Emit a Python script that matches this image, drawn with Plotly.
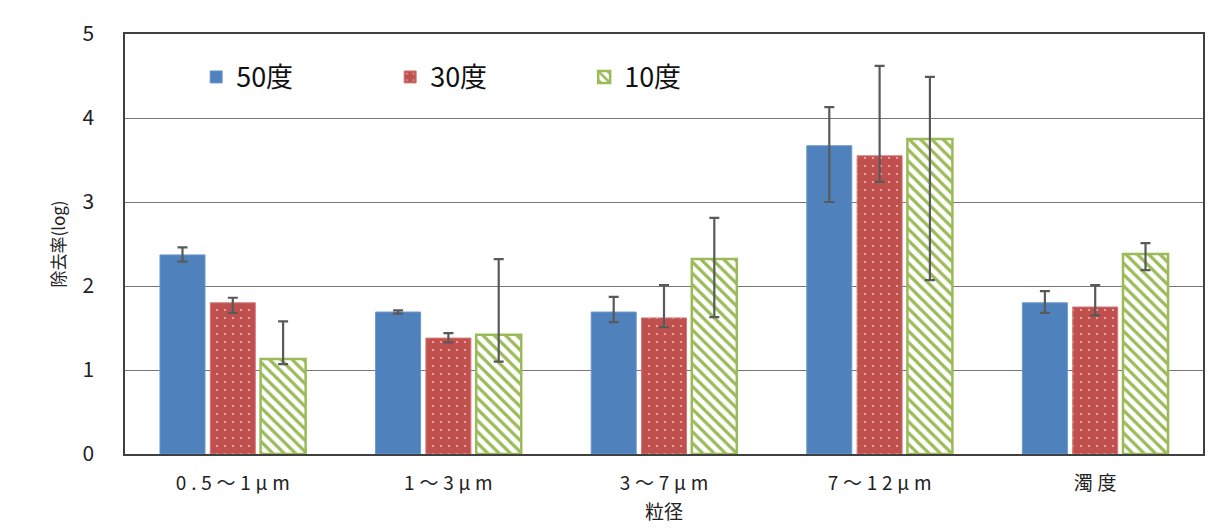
import plotly.graph_objects as go

categories = ["0.5～1μm", "1～3μm", "3～7μm", "7～12μm", "濁度"]
series_names = ["50度", "30度", "10度"]

val_50 = [2.37, 1.69, 1.69, 3.67, 1.80]
up_50 = [2.46, 1.71, 1.87, 4.13, 1.94]
lo_50 = [2.29, 1.67, 1.57, 3.00, 1.68]

val_30 = [1.80, 1.38, 1.62, 3.55, 1.75]
up_30 = [1.86, 1.44, 2.01, 4.62, 2.01]
lo_30 = [1.68, 1.33, 1.51, 3.24, 1.65]

val_10 = [1.13, 1.42, 2.32, 3.75, 2.38]
up_10 = [1.58, 2.32, 2.81, 4.49, 2.51]
lo_10 = [1.07, 1.10, 1.63, 2.07, 2.19]

FONT = "Noto Sans CJK JP"
ERR = "#595959"
SP = "\u2005"
tick_text = [SP.join(list(c)) for c in categories]

def err(vals, ups, los):
    return dict(type="data", symmetric=False,
                array=[u - v for u, v in zip(ups, vals)],
                arrayminus=[v - l for v, l in zip(vals, los)],
                color=ERR, thickness=2.2, width=5)

fig = go.Figure()
fig.add_trace(go.Bar(
    name=series_names[0], x=categories, y=val_50,
    marker=dict(color="#4F81BD", line=dict(color="#6F97CC", width=1)),
    error_y=err(val_50, up_50, lo_50)))
fig.add_trace(go.Bar(
    name=series_names[1], x=categories, y=val_30,
    marker=dict(color="#C0504D", line=dict(color="#D07A78", width=1),
                pattern=dict(shape=".", fgcolor="#EBB5B4", bgcolor="#C0504D",
                             size=8, solidity=0.06, fillmode="replace")),
    error_y=err(val_30, up_30, lo_30)))
fig.add_trace(go.Bar(
    name=series_names[2], x=categories, y=val_10,
    marker=dict(color="#9BBB59", line=dict(color="#9BBB59", width=2.5),
                pattern=dict(shape="\\", fgcolor="#9BBB59", bgcolor="white",
                             size=8, solidity=0.4, fillmode="replace")),
    error_y=err(val_10, up_10, lo_10)))

fig.update_layout(
    width=1214, height=528,
    paper_bgcolor="white", plot_bgcolor="white",
    margin=dict(l=117, r=19, t=26, b=82),
    barmode="group", bargap=0.30, bargroupgap=0.105,
    font=dict(family=FONT, color="#222222"),
    legend=dict(orientation="h", x=0.066, y=0.955, xanchor="left", yanchor="top",
                font=dict(size=27, family=FONT, color="#111111"),
                bgcolor="rgba(0,0,0,0)", entrywidth=149, itemwidth=30),
    showlegend=True,
)
fig.update_xaxes(
    automargin=False,
    tickvals=categories, ticktext=tick_text,
    showline=True, mirror=True, linecolor="#404040", linewidth=1.5,
    tickfont=dict(size=19, family=FONT, color="#222222"),
    ticklabelstandoff=11,
    title=dict(text="粒径", font=dict(size=19, family=FONT, color="#222222"), standoff=12),
    showgrid=False, ticks="",
)
fig.update_yaxes(
    automargin=False,
    range=[0, 5], dtick=1, showline=True, mirror=True, linecolor="#404040", linewidth=1.5,
    showgrid=True, gridcolor="#767676", gridwidth=1.2,
    tickfont=dict(size=21, family=FONT, color="#222222"),
    ticklabelstandoff=25,
    title=dict(text="除去率(log)", font=dict(size=17, family=FONT, color="#222222"), standoff=12),
    zeroline=False, ticks="",
)

fig.write_html("out.html")
